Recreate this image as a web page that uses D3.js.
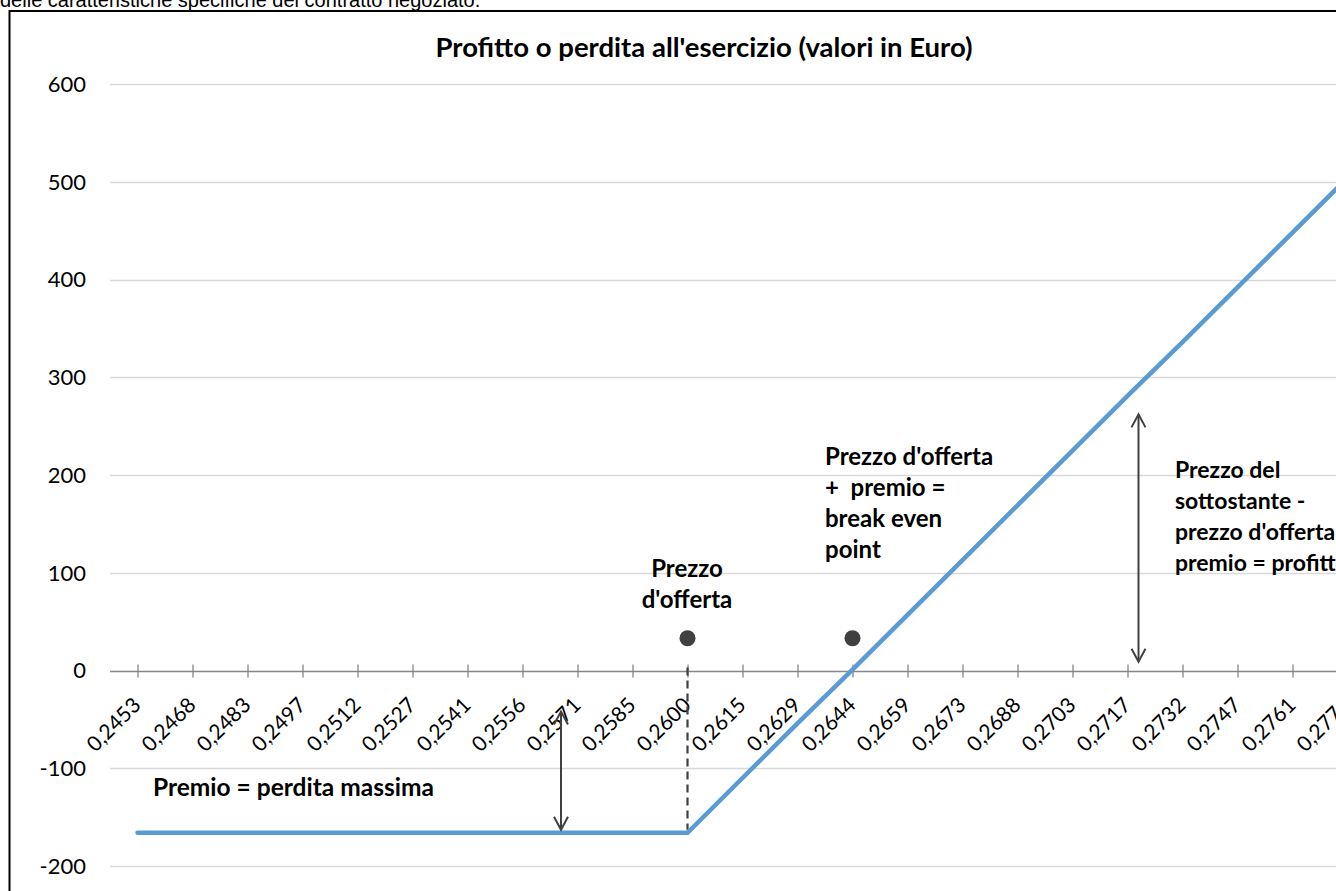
<!DOCTYPE html>
<html>
<head>
<meta charset="utf-8">
<script src="https://cdn.jsdelivr.net/npm/d3@7"></script>
<style>
  body { margin: 0; background: #fff; overflow: hidden; }
  svg { display: block; }
</style>
</head>
<body>
<div id="chart"></div>
<script>
// Categories: prezzo del sottostante
const categories = ["0,2453", "0,2468", "0,2483", "0,2497", "0,2512", "0,2527", "0,2541", "0,2556",
  "0,2571", "0,2585", "0,2600", "0,2615", "0,2629", "0,2644", "0,2659", "0,2673", "0,2688",
  "0,2703", "0,2717", "0,2732", "0,2747", "0,2761", "0,2776"];
// Profitto o perdita (Euro)
const profit = [-166, -166, -166, -166, -166, -166, -166, -166, -166, -166, -166,
  -110, -54, 1, 57, 113, 169, 225, 281, 336, 392, 448, 504];
const yTicks = [-200, -100, 0, 100, 200, 300, 400, 500, 600];
// Annotation points (strike and break even)
const markers = [{ cat: "0,2600", value: 33 }, { cat: "0,2644", value: 33 }];

const w = 1336, h = 891;
const plotLeft = 110, step = 55;

const svg = d3.select("#chart").append("svg")
  .attr("width", w).attr("height", h);

// Text from the page above, cut off
svg.append("text")
  .attr("x", 0).attr("y", 7)
  .attr("font-family", "Liberation Sans, Arial")
  .attr("font-size", 20)
  .text("delle caratteristiche specifiche del contratto negoziato.");

// Chart border
svg.append("rect")
  .attr("x", 9.5).attr("y", 11).attr("width", 1400).attr("height", 900)
  .attr("fill", "none").attr("stroke", "#000").attr("stroke-width", 2);

const xScale = d3.scalePoint()
  .domain(categories)
  .range([plotLeft, plotLeft + categories.length * step])
  .padding(0.5);
const xi = i => xScale(categories[0]) + i * xScale.step();

const yScale = d3.scaleLinear().domain([-200, 600]).range([866, 84]);

// Gridlines
svg.append("g")
  .selectAll("line")
  .data(yTicks.filter(d => d !== 0))
  .enter()
  .append("line")
    .attr("x1", plotLeft).attr("x2", w)
    .attr("y1", d => Math.round(yScale(d)) + 0.5)
    .attr("y2", d => Math.round(yScale(d)) + 0.5)
    .attr("stroke", "#d9d9d9").attr("stroke-width", 1.3);

// Y axis labels
svg.append("g")
  .selectAll("text")
  .data(yTicks)
  .enter()
  .append("text")
    .attr("x", 86)
    .attr("y", d => yScale(d))
    .attr("dy", "0.36em")
    .attr("text-anchor", "end")
    .attr("font-family", "Lato")
    .attr("font-size", 22)
    .attr("fill", "#000")
    .text(d => d);

// X axis at zero
const y0 = Math.round(yScale(0)) + 0.5;
const xAxis = d3.axisBottom(xScale).tickSize(0).tickFormat("");
const gx = svg.append("g").attr("transform", "translate(0," + y0 + ")").call(xAxis);
gx.select(".domain").remove();
gx.append("line").attr("x1", plotLeft).attr("x2", w)
  .attr("stroke", "#868686").attr("stroke-width", 1.3);
gx.selectAll(".tick").append("line")
  .attr("y1", -7).attr("y2", 6)
  .attr("stroke", "#868686").attr("stroke-width", 1.3);
gx.selectAll(".tick").append("text")
  .attr("transform", "translate(4,35) rotate(-45)")
  .attr("text-anchor", "end")
  .attr("font-family", "Lato")
  .attr("font-size", 21)
  .attr("fill", "#000")
  .text(d => d);

// Dashed line at strike price
svg.append("line")
  .attr("x1", xScale("0,2600")).attr("x2", xScale("0,2600"))
  .attr("y1", yScale(3)).attr("y2", yScale(-163))
  .attr("stroke", "#404040").attr("stroke-width", 2.2)
  .attr("stroke-dasharray", "8,5");

// Profit line
const line = d3.line()
  .x((d, i) => xScale(categories[i]))
  .y(d => yScale(d));
svg.append("path")
  .datum(profit)
  .attr("d", line)
  .attr("fill", "none")
  .attr("stroke", "#5b9bd5")
  .attr("stroke-width", 4.5)
  .attr("stroke-linecap", "round");

// Markers
svg.append("g")
  .selectAll("circle")
  .data(markers)
  .enter()
  .append("circle")
    .attr("cx", d => xScale(d.cat))
    .attr("cy", d => yScale(d.value))
    .attr("r", 8)
    .attr("fill", "#404040");

// Double arrows
function doubleArrow(x, yTop, yBot) {
  const g = svg.append("g").attr("stroke", "#404040").attr("stroke-width", 2).attr("fill", "none");
  g.append("line").attr("x1", x).attr("x2", x).attr("y1", yTop).attr("y2", yBot);
  g.append("path").attr("d", `M${x - 7},${yTop + 13}L${x},${yTop}L${x + 7},${yTop + 13}`);
  g.append("path").attr("d", `M${x - 7},${yBot - 13}L${x},${yBot}L${x + 7},${yBot - 13}`);
}
doubleArrow(xi(7.7), yScale(-42), yScale(-163));
doubleArrow(xi(18.2), yScale(262), yScale(9));

// Title
svg.append("text")
  .attr("x", 704).attr("y", 47)
  .attr("dy", "0.35em")
  .attr("text-anchor", "middle")
  .attr("font-family", "Lato")
  .attr("font-weight", "bold")
  .attr("font-size", 27.5)
  .text("Profitto o perdita all'esercizio (valori in Euro)");

// Annotation texts
function multiText(x, y, lines, size) {
  const t = svg.append("text")
    .attr("font-family", "Lato")
    .attr("font-weight", "bold")
    .attr("font-size", size)
    .attr("fill", "#000")
    .attr("text-anchor", "start");
  lines.forEach((s, i) => {
    t.append("tspan").attr("x", x).attr("y", y + i * 31).attr("dy", "0.35em")
      .attr("xml:space", "preserve").text(s);
  });
  return t;
}
multiText(153, 787, ["Premio = perdita massima"], 24.5);
multiText(687, 569, ["Prezzo", "d'offerta"], 24).attr("text-anchor", "middle");
multiText(825, 457, ["Prezzo d'offerta", "+  premio =", "break even", "point"], 24);
multiText(1175, 470, ["Prezzo del", "sottostante -", "prezzo d'offerta +", "premio = profitto"], 23);
</script>
</body>
</html>
